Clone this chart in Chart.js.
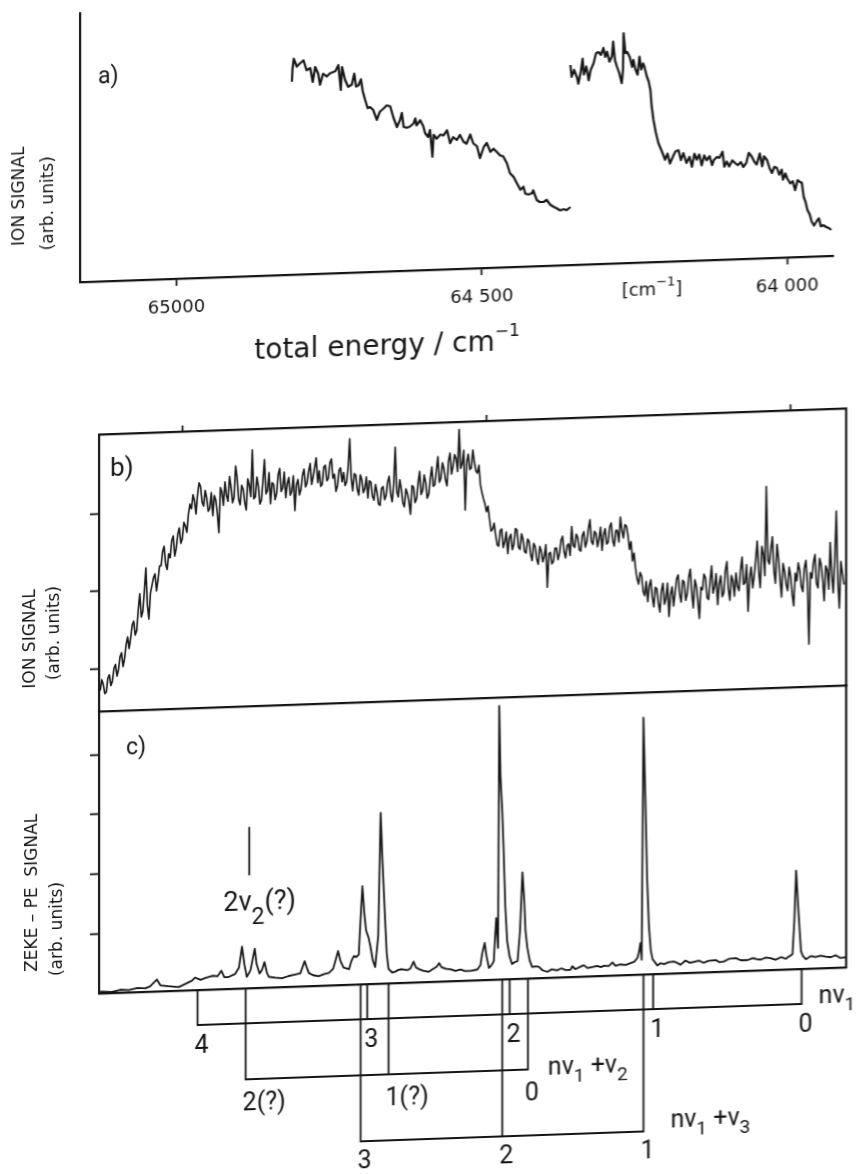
<!DOCTYPE html>
<html>
<head>
<meta charset="utf-8">
<script src="https://cdn.jsdelivr.net/npm/chart.js@4.4.1/dist/chart.umd.min.js"></script>
<style>
  html, body { margin: 0; padding: 0; background: #fff; overflow: hidden; }
  /* the scanned figure is tilted by about 2 degrees */
  #page { position: relative; width: 856px; height: 1174px; transform: skewY(-2deg); transform-origin: 428px 587px; }
  #page canvas { position: absolute; left: 0; top: 0; width: 856px; height: 1174px; }
</style>
</head>
<body>
<div id="page">
  <canvas id="chart-a" width="856" height="1174"></canvas>
  <canvas id="chart-b" width="856" height="1174"></canvas>
  <canvas id="chart-c" width="856" height="1174"></canvas>
</div>
<script>
// ---- panel a) : two ion signal scans (total energy in cm-1, signal in arb. units)
const scanA1Energy = [64811, 64810, 64808, 64803, 64798, 64792, 64787, 64781, 64777, 64773,
  64768, 64765, 64760, 64754, 64749, 64740, 64735, 64731, 64729, 64724,
  64719, 64713, 64709, 64706, 64702, 64698, 64695, 64691, 64687, 64683,
  64678, 64672, 64667, 64661, 64656, 64650, 64645, 64639, 64634, 64631,
  64628, 64623, 64618, 64612, 64609, 64607, 64601, 64596, 64593, 64588,
  64585, 64581, 64579, 64574, 64568, 64563, 64557, 64552, 64547, 64541,
  64536, 64530, 64525, 64519, 64514, 64508, 64503, 64497, 64492, 64486,
  64481, 64476, 64470, 64465, 64459, 64454, 64448, 64443, 64437, 64432,
  64429, 64424, 64418, 64416, 64410, 64405, 64399, 64394, 64388, 64383,
  64377, 64372, 64366, 64361, 64355];
const scanA1Signal = [193, 206, 216, 208, 211, 214, 204, 206, 192, 207,
  200, 189, 200, 197, 200, 202, 208, 183, 206, 193,
  186, 188, 199, 186, 187, 193, 181, 172, 164, 165,
  162, 152, 160, 163, 166, 165, 154, 144, 151, 158,
  144, 143, 144, 147, 152, 145, 150, 144, 137, 133,
  140, 113, 135, 131, 135, 134, 139, 126, 132, 129,
  134, 127, 125, 134, 125, 122, 110, 121, 125, 116,
  119, 116, 112, 111, 104, 94, 90, 84, 77, 80,
  73, 72, 73, 76, 66, 64, 64, 66, 61, 59,
  57, 55, 56, 55, 58];
const scanA2Energy = [64355, 64353, 64349, 64344, 64342, 64338, 64335, 64333, 64329, 64325,
  64322, 64317, 64313, 64309, 64305, 64301, 64298, 64295, 64291, 64287,
  64285, 64282, 64279, 64275, 64271, 64269, 64268, 64265, 64262, 64258,
  64254, 64252, 64249, 64245, 64242, 64239, 64236, 64234, 64230, 64227,
  64224, 64222, 64219, 64215, 64211, 64205, 64200, 64196, 64192, 64187,
  64183, 64178, 64174, 64170, 64165, 64160, 64156, 64152, 64148, 64144,
  64140, 64136, 64132, 64127, 64123, 64120, 64115, 64111, 64106, 64103,
  64099, 64095, 64090, 64085, 64081, 64076, 64072, 64067, 64063, 64058,
  64054, 64050, 64045, 64041, 64038, 64033, 64029, 64025, 64021, 64017,
  64013, 64009, 64007, 64003, 64000, 63995, 63991, 63987, 63983, 63979,
  63976, 63973, 63970, 63967, 63963, 63960, 63956, 63951, 63948, 63945,
  63941, 63936, 63932, 63928];
const scanA2Signal = [200, 188, 195, 187, 181, 193, 206, 190, 198, 184,
  194, 201, 211, 212, 209, 216, 207, 212, 202, 207,
  222, 203, 197, 190, 180, 193, 230, 210, 211, 206,
  196, 203, 194, 188, 206, 193, 199, 196, 186, 181,
  172, 156, 142, 129, 119, 110, 102, 108, 98, 105,
  110, 111, 101, 108, 98, 104, 94, 107, 101, 106,
  95, 105, 100, 104, 95, 100, 103, 102, 108, 93,
  98, 93, 99, 96, 94, 97, 92, 96, 106, 102,
  97, 94, 105, 92, 102, 98, 90, 85, 91, 90,
  83, 88, 78, 84, 79, 74, 76, 67, 77, 75,
  74, 60, 55, 47, 42, 35, 31, 36, 38, 30,
  31, 29, 28, 26];
const aTickValues = [65000, 64500, 64000];
const aTickLabels = ['65000', '64 500', '64 000'];

// ---- panel b) : ion signal, one reading every 2.5 cm-1 starting at 65135 cm-1
const ionStart = 65135;
const ionStep = 2.5;
const ionSignal = [
  0.72, 0.86, 0.80, 0.68, 0.70, 0.88, 0.92, 0.78, 0.84, 1.00, 1.05, 0.90, 0.98, 1.15, 1.20, 1.02, 1.12, 1.30, 1.40, 1.25,
  1.38, 1.55, 1.60, 1.42, 1.48, 1.75, 1.95, 1.65, 1.72, 1.98, 2.28, 1.80, 1.62, 1.95, 2.05, 2.15, 2.20, 1.98, 2.12, 2.30,
  2.30, 2.48, 2.55, 2.32, 2.25, 2.45, 2.40, 2.62, 2.68, 2.42, 2.52, 2.70, 2.78, 2.58, 2.64, 2.85, 2.80, 2.72, 2.95, 3.08,
  3.02, 3.20, 3.12, 2.95, 3.20, 3.35, 3.30, 3.10, 3.05, 3.25, 3.15, 2.98, 3.02, 3.22, 2.92, 3.18, 3.12, 2.95, 2.70, 3.28,
  3.22, 3.05, 3.35, 3.18, 3.10, 3.42, 3.28, 3.08, 3.15, 3.55, 3.40, 3.12, 3.05, 3.30, 3.25, 3.08, 2.98, 3.38, 3.30, 3.15,
  3.75, 3.12, 3.15, 3.40, 3.28, 3.05, 3.10, 3.35, 3.62, 3.18, 3.22, 3.45, 3.05, 3.32, 3.30, 3.10, 3.18, 3.42, 3.50, 3.20,
  3.25, 3.45, 3.12, 3.30, 3.38, 3.15, 3.20, 3.40, 2.95, 3.28, 3.35, 3.15, 3.22, 3.40, 3.48, 3.25, 3.30, 3.45, 3.55, 3.28,
  3.38, 3.50, 3.62, 3.30, 3.45, 3.25, 3.28, 3.50, 3.52, 3.32, 3.35, 3.55, 3.60, 3.35, 3.40, 3.18, 3.25, 3.45, 3.48, 3.30,
  3.42, 3.25, 3.30, 3.48, 3.85, 3.35, 3.18, 3.40, 3.38, 3.20, 3.12, 3.38, 3.32, 3.15, 3.20, 3.35, 3.08, 3.30, 3.28, 3.10,
  3.05, 3.25, 3.15, 3.00, 2.98, 3.20, 3.22, 3.05, 3.10, 3.28, 3.35, 3.12, 3.02, 3.25, 3.72, 3.15, 3.08, 3.30, 3.18, 3.00,
  2.95, 3.18, 3.12, 3.02, 2.85, 3.22, 3.20, 3.00, 3.05, 3.25, 3.40, 3.10, 3.15, 3.35, 3.25, 3.05, 3.10, 3.30, 3.45, 3.20,
  3.22, 3.40, 3.58, 3.25, 3.30, 3.50, 3.42, 3.28, 3.20, 3.52, 3.62, 3.35, 3.45, 3.60, 3.55, 3.38, 3.92, 3.42, 3.48, 3.65,
  2.88, 3.50, 3.60, 3.40, 3.42, 3.65, 3.50, 3.38, 3.35, 3.45, 3.20, 3.10, 3.02, 2.95, 2.85, 2.92, 2.75, 2.60, 2.62, 2.70,
  2.55, 2.42, 2.40, 2.60, 2.62, 2.38, 2.45, 2.58, 2.30, 2.50, 2.55, 2.35, 2.42, 2.62, 2.60, 2.38, 2.35, 2.55, 2.48, 2.32,
  2.30, 2.48, 2.45, 2.28, 2.20, 2.42, 2.38, 2.22, 2.15, 2.38, 2.32, 2.18, 2.25, 2.40, 1.85, 2.28, 2.30, 2.15, 2.18, 2.35,
  2.35, 2.20, 2.28, 2.45, 2.50, 2.30, 2.22, 2.38, 2.40, 2.25, 2.62, 2.38, 2.35, 2.52, 2.48, 2.32, 2.30, 2.50, 2.55, 2.35,
  2.42, 2.58, 2.70, 2.42, 2.38, 2.55, 2.52, 2.35, 2.45, 2.60, 2.30, 2.50, 2.58, 2.38, 2.40, 2.60, 2.65, 2.42, 2.35, 2.55,
  2.55, 2.40, 2.72, 2.55, 2.45, 2.62, 2.60, 2.48, 2.30, 2.40, 2.15, 2.25, 2.05, 1.92, 1.85, 2.00, 1.95, 1.75, 1.70, 1.88,
  1.62, 1.82, 1.90, 1.68, 1.55, 1.80, 1.78, 1.60, 1.48, 1.75, 1.85, 1.58, 1.65, 1.85, 1.42, 1.70, 1.80, 1.55, 1.72, 1.90,
  1.95, 1.70, 1.60, 1.88, 1.85, 1.62, 1.70, 1.92, 2.02, 1.70, 1.52, 1.88, 1.80, 1.60, 1.38, 1.78, 1.75, 1.95, 1.90, 1.65,
  1.62, 1.85, 2.05, 1.70, 1.78, 1.95, 1.55, 1.82, 1.92, 1.65, 1.70, 1.98, 2.10, 1.75, 1.60, 1.92, 1.85, 1.65, 1.95, 1.78,
  1.72, 1.98, 2.15, 1.80, 1.82, 2.05, 1.45, 1.88, 2.02, 1.75, 1.90, 2.12, 2.35, 1.95, 1.75, 2.28, 2.18, 1.90, 3.05, 2.10,
  2.05, 2.25, 2.40, 1.95, 1.80, 2.30, 2.12, 1.85, 1.62, 2.05, 1.95, 1.78, 1.70, 2.00, 1.88, 1.65, 1.50, 1.92, 1.82, 2.05,
  1.95, 1.75, 1.68, 1.98, 2.08, 1.80, 1.00, 1.92, 1.85, 2.05, 2.15, 1.78, 1.72, 2.10, 2.02, 1.82, 1.55, 2.00, 1.95, 1.70,
  2.30, 1.88, 1.65, 2.10, 2.70, 1.80, 1.45, 2.05, 1.90, 1.75];
const ionTicks = [1, 2, 3];

// ---- panel c) : ZEKE-PE spectrum
const zekeEnergy = [65135, 65116, 65102, 65088, 65074, 65061, 65053, 65042, 65036, 65023,
  65006, 64993, 64984, 64979, 64970, 64962, 64951, 64942, 64936, 64931,
  64924, 64913, 64907, 64902, 64898, 64894, 64888, 64881, 64878, 64873,
  64869, 64865, 64861, 64858, 64847, 64836, 64826, 64817, 64806, 64799,
  64795, 64792, 64785, 64776, 64768, 64759, 64752, 64744, 64740, 64735,
  64726, 64722, 64718, 64714, 64710, 64707, 64704, 64701, 64698, 64694,
  64691, 64687, 64683, 64678, 64674, 64671, 64667, 64664, 64661, 64655,
  64650, 64645, 64639, 64630, 64625, 64620, 64616, 64611, 64604, 64595,
  64587, 64582, 64578, 64574, 64567, 64559, 64551, 64543, 64535, 64526,
  64515, 64510, 64507, 64503, 64500, 64496, 64492, 64488, 64486, 64484,
  64481, 64479, 64477, 64474, 64472, 64469, 64466, 64462, 64458, 64454,
  64449, 64445, 64441, 64438, 64436, 64433, 64429, 64425, 64419, 64414,
  64408, 64400, 64393, 64384, 64377, 64370, 64362, 64359, 64354, 64347,
  64340, 64334, 64329, 64318, 64312, 64307, 64299, 64293, 64288, 64280,
  64271, 64263, 64257, 64252, 64249, 64247, 64245, 64242, 64239, 64236,
  64233, 64230, 64227, 64219, 64214, 64208, 64201, 64192, 64186, 64181,
  64173, 64166, 64159, 64151, 64143, 64135, 64123, 64117, 64110, 64102,
  64090, 64082, 64071, 64062, 64056, 64049, 64041, 64033, 64025, 64016,
  64008, 64002, 63997, 63994, 63991, 63988, 63983, 63980, 63975, 63967,
  63959, 63951, 63942, 63934, 63926, 63918, 63909];
const zekeSignal = [0.03, 0.02, 0.05, 0.04, 0.07, 0.06, 0.09, 0.20, 0.10, 0.08,
  0.06, 0.12, 0.16, 0.21, 0.17, 0.20, 0.23, 0.22, 0.31, 0.20,
  0.20, 0.25, 0.35, 0.70, 0.40, 0.19, 0.30, 0.66, 0.40, 0.24,
  0.30, 0.43, 0.25, 0.18, 0.16, 0.15, 0.18, 0.20, 0.22, 0.42,
  0.30, 0.22, 0.18, 0.16, 0.19, 0.21, 0.28, 0.57, 0.40, 0.29,
  0.26, 0.40, 0.48, 0.46, 0.50, 1.10, 1.64, 1.20, 0.90, 0.78,
  0.64, 0.40, 0.28, 0.80, 2.86, 2.05, 1.14, 0.50, 0.24, 0.18,
  0.19, 0.22, 0.23, 0.21, 0.24, 0.35, 0.25, 0.22, 0.19, 0.17,
  0.22, 0.25, 0.31, 0.24, 0.21, 0.20, 0.17, 0.19, 0.16, 0.16,
  0.18, 0.25, 0.45, 0.62, 0.40, 0.20, 0.24, 0.31, 0.70, 1.03,
  0.53, 4.58, 3.40, 2.80, 2.21, 1.20, 0.64, 0.38, 0.25, 0.28,
  0.30, 0.80, 1.78, 1.30, 0.80, 0.52, 0.30, 0.19, 0.20, 0.19,
  0.13, 0.10, 0.14, 0.12, 0.15, 0.12, 0.12, 0.18, 0.13, 0.16,
  0.19, 0.14, 0.15, 0.17, 0.15, 0.17, 0.16, 0.22, 0.16, 0.18,
  0.17, 0.20, 0.22, 0.28, 0.40, 0.53, 0.25, 4.30, 3.00, 1.59,
  0.80, 0.40, 0.25, 0.14, 0.18, 0.16, 0.19, 0.20, 0.17, 0.14,
  0.21, 0.17, 0.18, 0.20, 0.16, 0.19, 0.20, 0.16, 0.17, 0.21,
  0.22, 0.18, 0.18, 0.21, 0.19, 0.18, 0.21, 0.20, 0.17, 0.21,
  0.18, 0.22, 0.25, 0.80, 1.65, 1.10, 0.30, 0.22, 0.16, 0.21,
  0.19, 0.21, 0.19, 0.18, 0.21, 0.16, 0.17];
const zekeTicks = [1, 2, 3, 4];

// ---- assignments drawn under panel c)
const nv1Energy = [64975, 64696, 64462, 64226, 63982];
const nv1Labels = ['4', '3', '2', '1', '0'];
const nv2Energy = [64896, 64661, 64432];
const nv2Labels = ['2(?)', '1(?)', '0'];
const nv3Energy = [64707, 64474, 64242];
const nv3Labels = ['3', '2', '1'];
const overtoneEnergy = 64890;

const INK = '#151515';
const bcMin = 63909, bcMax = 65137;
Chart.defaults.font.family = "'DejaVu Sans', sans-serif";
Chart.defaults.color = INK;

// text helper: segs = [[text, 'sub'|'sup'|undefined], ...]
function label(ctx, segs, x, y, o) {
  o = Object.assign({ size: 18, family: 'DejaVu Sans', align: 'left', rotate: 0, sub: 0.75, drop: 0.4, rise: 0.42 }, o);
  ctx.save();
  ctx.translate(x, y);
  if (o.rotate) ctx.rotate(o.rotate);
  ctx.fillStyle = INK;
  ctx.textBaseline = 'middle';
  ctx.textAlign = 'left';
  const font = k => (k ? Math.round(o.size * o.sub) : o.size) + "px '" + o.family + "'";
  let w = 0;
  for (const [t, k] of segs) { ctx.font = font(k); w += ctx.measureText(t).width; }
  let cx = o.align === 'center' ? -w / 2 : 0;
  for (const [t, k] of segs) {
    ctx.font = font(k);
    const dy = k === 'sub' ? o.size * o.drop : k === 'sup' ? -o.size * o.rise : 0;
    ctx.fillText(t, cx, dy);
    cx += ctx.measureText(t).width;
  }
  ctx.restore();
}

const frame = { display: true, color: INK, width: 2.2 };
const fixed = (w, h) => s => { if (w !== null) s.width = w; if (h !== null) s.height = h; };
const setTicks = vals => s => { s.ticks = vals.map(v => ({ value: v })); };
const plainAxis = (extra) => Object.assign({
  type: 'linear', ticks: { display: false }, grid: { display: false }, border: frame
}, extra);
const tickAxis = (len, extra) => Object.assign({
  type: 'linear', ticks: { display: false },
  grid: { display: true, drawOnChartArea: false, drawTicks: true, tickLength: len, tickColor: INK, tickWidth: 1.8 },
  border: frame
}, extra);
const baseOptions = (padding) => ({
  responsive: false, animation: false, events: [], devicePixelRatio: 1,
  layout: { autoPadding: false, padding: padding },
  plugins: { legend: { display: false }, tooltip: { enabled: false } },
  elements: { point: { radius: 0 }, line: { tension: 0, borderJoinStyle: 'round' } }
});
const toPoints = (xs, ys) => ys.map((y, i) => ({ x: xs[i], y: y }));

// ---------------- panel a)
new Chart(document.getElementById('chart-a'), {
  type: 'line',
  data: {
    datasets: [
      { data: toPoints(scanA1Energy, scanA1Signal), borderColor: INK, borderWidth: 2.2 },
      { data: toPoints(scanA2Energy, scanA2Signal), borderColor: INK, borderWidth: 2.2 }
    ]
  },
  options: Object.assign(baseOptions({ left: 79, top: 1, right: 23, bottom: 802 }), {
    scales: {
      x: {
        type: 'linear', position: 'bottom', reverse: true, min: 63925, max: 65158,
        afterBuildTicks: setTicks(aTickValues), afterFit: fixed(null, 102),
        ticks: {
          padding: 12, maxRotation: 0, autoSkip: false, color: INK,
          font: { size: 18 },
          callback: v => aTickLabels[aTickValues.indexOf(v)]
        },
        grid: { display: true, drawOnChartArea: false, drawTicks: true, tickLength: 7, tickColor: INK, tickWidth: 1.8 },
        border: frame
      },
      y: plainAxis({ position: 'left', min: 0, max: 269, afterFit: fixed(1, null) })
    }
  }),
  plugins: [{
    id: 'panelA',
    afterDraw(chart) {
      const ctx = chart.ctx;
      label(ctx, [['a)']], 98, 66, { size: 23, family: 'Roboto' });
      label(ctx, [['[cm'], ['\u22121', 'sup'], [']']], 652, 298, { size: 18, align: 'center', sub: 0.7 });
      label(ctx, [['total energy / cm'], ['\u22121', 'sup']], 387, 346, { size: 28, align: 'center', sub: 0.62 });
      label(ctx, [['ION SIGNAL']], 20, 182, { size: 17, align: 'center', rotate: -Math.PI / 2 });
      label(ctx, [['(arb. units)']], 49, 190, { size: 17, align: 'center', rotate: -Math.PI / 2 });
    }
  }]
});

// ---------------- panel b)
new Chart(document.getElementById('chart-b'), {
  type: 'line',
  data: {
    datasets: [{
      data: ionSignal.map((v, i) => ({ x: ionStart - i * ionStep, y: v })),
      borderColor: INK, borderWidth: 1.6
    }]
  },
  options: Object.assign(baseOptions({ left: 79, top: 413, right: 9, bottom: 473 }), {
    scales: {
      x: tickAxis(6, { position: 'top', reverse: true, min: bcMin, max: bcMax,
        afterBuildTicks: setTicks(aTickValues), afterFit: fixed(null, 10) }),
      x2: plainAxis({ axis: 'x', position: 'bottom', reverse: true, min: bcMin, max: bcMax, afterFit: fixed(null, 1) }),
      y: tickAxis(9, { position: 'left', min: 0.453, max: 4.018,
        afterBuildTicks: setTicks(ionTicks), afterFit: fixed(20, null) }),
      y2: plainAxis({ axis: 'y', position: 'right', min: 0.453, max: 4.018, afterFit: fixed(1, null) })
    }
  }),
  plugins: [{
    id: 'panelB',
    afterDraw(chart) {
      const ctx = chart.ctx;
      label(ctx, [['b)']], 110, 458, { size: 26, family: 'Roboto' });
      label(ctx, [['ION SIGNAL']], 31, 625, { size: 17, align: 'center', rotate: -Math.PI / 2 });
      label(ctx, [['(arb. units)']], 55, 620, { size: 17, align: 'center', rotate: -Math.PI / 2 });
    }
  }]
});

// ---------------- panel c) with the progressions below it
new Chart(document.getElementById('chart-c'), {
  type: 'line',
  data: {
    datasets: [{ data: toPoints(zekeEnergy, zekeSignal), borderColor: INK, borderWidth: 1.8 }]
  },
  options: Object.assign(baseOptions({ left: 79, top: 700, right: 9, bottom: 191 }), {
    scales: {
      x: plainAxis({ position: 'bottom', reverse: true, min: bcMin, max: bcMax, afterFit: fixed(null, 1) }),
      y: tickAxis(9, { position: 'left', min: 0, max: 4.72,
        afterBuildTicks: setTicks(zekeTicks), afterFit: fixed(20, null) }),
      y2: plainAxis({ axis: 'y', position: 'right', min: 0, max: 4.72, afterFit: fixed(1, null) })
    }
  }),
  plugins: [{
    id: 'panelC',
    afterDraw(chart) {
      const ctx = chart.ctx;
      const xs = chart.scales.x, ys = chart.scales.y;
      const y0 = ys.getPixelForValue(0);
      label(ctx, [['c)']], 126, 738, { size: 23, family: 'Roboto' });
      label(ctx, [['ZEKE \u2013 PE  SIGNAL']], 33, 879, { size: 17, align: 'center', rotate: -Math.PI / 2 });
      label(ctx, [['(arb. units)']], 58, 916, { size: 17, align: 'center', rotate: -Math.PI / 2 });

      // 2v2(?) marker
      const mx = xs.getPixelForValue(overtoneEnergy);
      ctx.save();
      ctx.strokeStyle = INK; ctx.lineWidth = 1.8;
      ctx.beginPath();
      ctx.moveTo(mx, ys.getPixelForValue(2.70));
      ctx.lineTo(mx, ys.getPixelForValue(1.89));
      ctx.stroke();
      ctx.restore();
      label(ctx, [['2\u03bd'], ['2', 'sub'], ['(?)']], mx - 26, ys.getPixelForValue(1.42),
        { size: 27, family: 'Roboto', sub: 0.85, drop: 0.55 });

      // progressions
      const groups = [
        { e: nv1Energy, t: nv1Labels, drop: 35, dy: 22, name: [['n\u03bd'], ['1', 'sub']], nx: 17, ny: -6 },
        { e: nv2Energy, t: nv2Labels, drop: 91, dy: 25, name: [['n\u03bd'], ['1', 'sub'], [' +\u03bd'], ['2', 'sub']], nx: 20, ny: 0 },
        { e: nv3Energy, t: nv3Labels, drop: 157, dy: 21, name: [['n\u03bd'], ['1', 'sub'], [' +\u03bd'], ['3', 'sub']], nx: 27, ny: -9 }
      ];
      ctx.save();
      ctx.strokeStyle = INK; ctx.lineWidth = 1.8; ctx.lineCap = 'square';
      groups.forEach(g => {
        const px = g.e.map(v => xs.getPixelForValue(v));
        const row = y0 + g.drop;
        ctx.beginPath();
        px.forEach(p => { ctx.moveTo(p, y0); ctx.lineTo(p, row); });
        ctx.moveTo(Math.min(...px), row);
        ctx.lineTo(Math.max(...px), row);
        ctx.stroke();
      });
      ctx.restore();
      groups.forEach(g => {
        const px = g.e.map(v => xs.getPixelForValue(v));
        const row = y0 + g.drop;
        px.forEach((p, i) => label(ctx, [[g.t[i]]], p - 3, row + g.dy, { size: 25, family: 'Roboto' }));
        label(ctx, g.name, Math.max(...px) + g.nx, row + g.ny, { size: 25, family: 'Roboto', sub: 0.75, drop: 0.38 });
      });
    }
  }]
});
</script>
</body>
</html>
